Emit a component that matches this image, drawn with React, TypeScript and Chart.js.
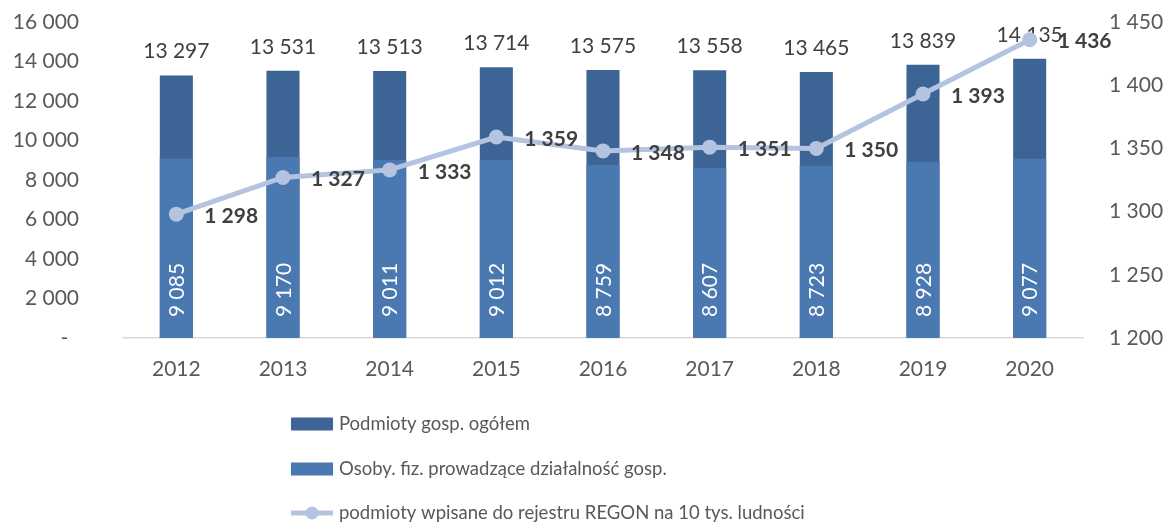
import React, { useEffect, useRef } from 'react';
import { Chart, registerables } from 'chart.js';

Chart.register(...registerables);

const categories = ['2012', '2013', '2014', '2015', '2016', '2017', '2018', '2019', '2020'];
const totalValues = [13297, 13531, 13513, 13714, 13575, 13558, 13465, 13839, 14135];
const osobyValues = [9085, 9170, 9011, 9012, 8759, 8607, 8723, 8928, 9077];
const regonValues = [1298, 1327, 1333, 1359, 1348, 1351, 1350, 1393, 1436];

const seriesLabels = [
  'Podmioty gosp. ogółem',
  'Osoby. fiz. prowadzące działalność gosp.',
  'podmioty wpisane do rejestru REGON na 10 tys. ludności',
];

const leftAxis = { min: 0, max: 16000, step: 2000 };
const rightAxis = { min: 1200, max: 1450, step: 50 };

const DARK = '#3C6596';
const LIGHT = '#4A78B0';
const LINE = '#B4C3DF';
const TICK = '#595959';
const LABEL = '#404040';
const FONT = 'Lato';

const fmt = (n: number) => String(n).replace(/\B(?=(\d{3})+(?!\d))/g, ' ');

const labelsPlugin = {
  id: 'customLabels',
  afterDatasetDraw(chart: any, args: any) {
    const ctx = chart.ctx;
    const meta = args.meta;
    ctx.save();
    if (args.index === 0) {
      ctx.font = `21px ${FONT}`;
      ctx.fillStyle = LABEL;
      ctx.textAlign = 'center';
      ctx.textBaseline = 'alphabetic';
      meta.data.forEach((el: any, i: number) => {
        ctx.fillText(fmt(totalValues[i]), el.x, el.y - 17);
      });
    } else if (args.index === 1) {
      ctx.font = `21px ${FONT}`;
      ctx.fillStyle = '#FFFFFF';
      ctx.textAlign = 'left';
      ctx.textBaseline = 'middle';
      meta.data.forEach((el: any, i: number) => {
        ctx.save();
        ctx.translate(el.x, el.base - 21);
        ctx.rotate(-Math.PI / 2);
        ctx.fillText(fmt(osobyValues[i]), 0, 1);
        ctx.restore();
      });
    } else if (args.index === 2) {
      ctx.font = `bold 21px ${FONT}`;
      ctx.fillStyle = LABEL;
      ctx.textAlign = 'left';
      ctx.textBaseline = 'middle';
      meta.data.forEach((el: any, i: number) => {
        ctx.fillText(fmt(regonValues[i]), el.x + 28, el.y + 2);
      });
    }
    ctx.restore();
  },
};

const legendPlugin = {
  id: 'customLegend',
  afterDraw(chart: any) {
    const ctx = chart.ctx;
    const rows = [424, 469, 513];
    const x0 = 291;
    const w = 42;
    ctx.save();
    ctx.font = `18.5px ${FONT}`;
    ctx.textAlign = 'left';
    ctx.textBaseline = 'middle';
    rows.forEach((y, i) => {
      if (i < 2) {
        ctx.fillStyle = i === 0 ? DARK : LIGHT;
        ctx.fillRect(x0, y - 6.5, w, 13);
      } else {
        ctx.strokeStyle = LINE;
        ctx.lineWidth = 5;
        ctx.beginPath();
        ctx.moveTo(x0, y);
        ctx.lineTo(x0 + w, y);
        ctx.stroke();
        ctx.fillStyle = LINE;
        ctx.beginPath();
        ctx.arc(x0 + w / 2, y, 6.5, 0, Math.PI * 2);
        ctx.fill();
      }
      ctx.fillStyle = TICK;
      ctx.fillText(seriesLabels[i], x0 + w + 6, y);
    });
    ctx.restore();
  },
};

export default function App() {
  const ref = useRef<HTMLCanvasElement | null>(null);

  useEffect(() => {
    document.body.style.margin = '0';
    const canvas = ref.current;
    if (!canvas) return;
    const chart = new Chart(canvas, {
      type: 'bar',
      data: {
        labels: categories,
        datasets: [
          {
            type: 'bar',
            label: seriesLabels[0],
            data: totalValues,
            backgroundColor: DARK,
            yAxisID: 'y',
            order: 2,
            categoryPercentage: 1,
            barPercentage: 0.31,
          },
          {
            type: 'bar',
            label: seriesLabels[1],
            data: osobyValues,
            backgroundColor: LIGHT,
            yAxisID: 'y',
            order: 1,
            categoryPercentage: 1,
            barPercentage: 0.31,
          },
          {
            type: 'line',
            label: seriesLabels[2],
            data: regonValues,
            borderColor: LINE,
            backgroundColor: LINE,
            borderWidth: 5,
            pointRadius: 7.5,
            pointBorderWidth: 0,
            pointBackgroundColor: LINE,
            yAxisID: 'y1',
            order: 0,
            tension: 0,
          },
        ] as any,
      },
      options: {
        animation: false,
        responsive: false,
        devicePixelRatio: 1,
        layout: { padding: { top: 22, bottom: 140, left: 0, right: 0 } },
        plugins: {
          legend: { display: false },
          tooltip: { enabled: false },
        },
        scales: {
          x: {
            stacked: true,
            grid: { display: false, drawTicks: false },
            border: { display: true, color: '#D9D9D9', width: 1.5 },
            ticks: { color: TICK, font: { family: FONT, size: 21 }, padding: 19 },
            afterFit: (s: any) => { s.height = 47; },
          },
          y: {
            position: 'left',
            stacked: false,
            min: leftAxis.min,
            max: leftAxis.max,
            grid: { display: false, drawTicks: false },
            border: { display: false },
            ticks: {
              stepSize: leftAxis.step,
              color: TICK,
              font: { family: FONT, size: 21 },
              padding: 44,
              callback: (v: any) => (Number(v) === 0 ? '-  ' : fmt(Number(v))),
            },
            afterFit: (s: any) => { s.width = 123; s.paddingTop = 0; s.paddingBottom = 0; },
          },
          y1: {
            position: 'right',
            min: rightAxis.min,
            max: rightAxis.max,
            grid: { display: false, drawTicks: false },
            border: { display: false },
            ticks: {
              stepSize: rightAxis.step,
              color: TICK,
              font: { family: FONT, size: 21 },
              padding: 26,
              callback: (v: any) => fmt(Number(v)),
            },
            afterFit: (s: any) => { s.width = 83; s.paddingTop = 0; s.paddingBottom = 0; },
          },
        },
      } as any,
      plugins: [labelsPlugin, legendPlugin],
    });
    return () => chart.destroy();
  }, []);

  return (
    <div style={{ width: 1166, height: 525 }}>
      <canvas ref={ref} width={1166} height={525} style={{ display: 'block' }} />
    </div>
  );
}
